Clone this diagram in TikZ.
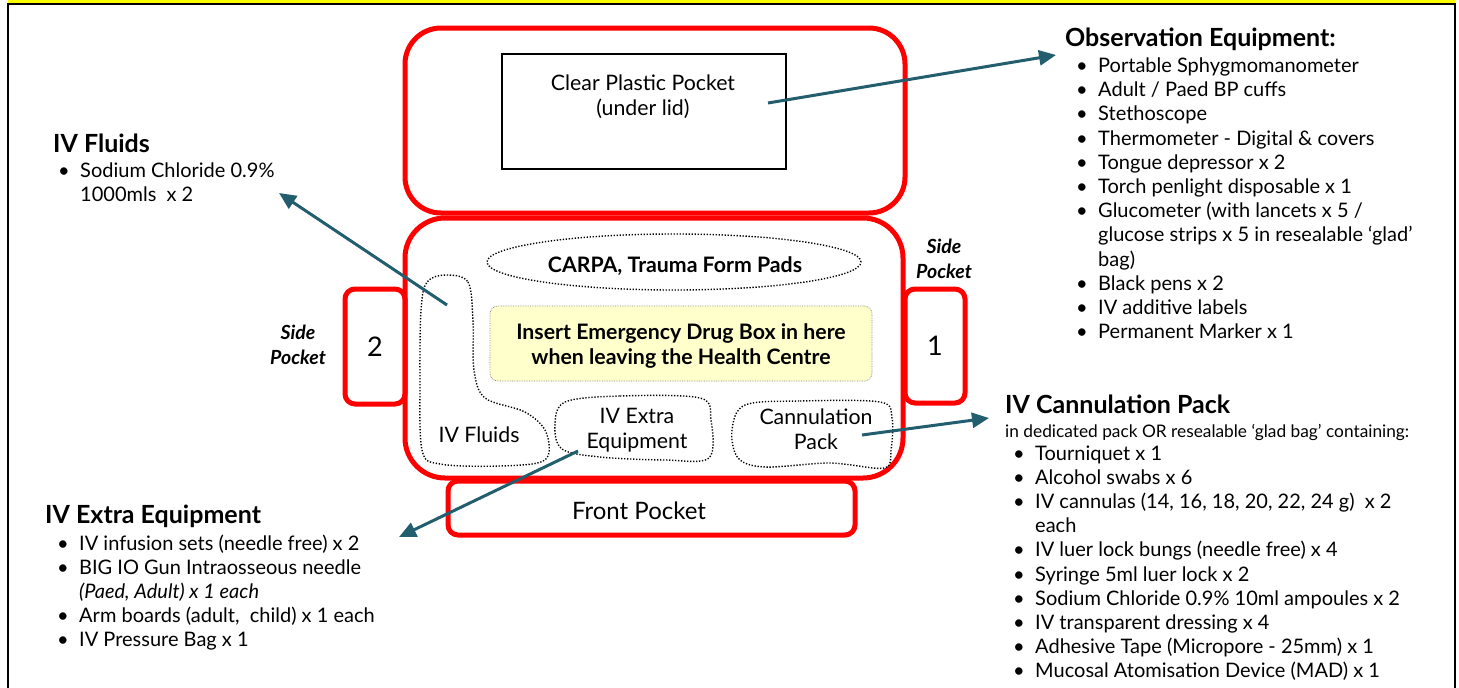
\documentclass[tikz,border=0pt]{standalone}
\usepackage{fontspec}
\setmainfont{Lato}
\usetikzlibrary{arrows.meta,shapes.geometric}

\definecolor{bagred}{RGB}{255,0,0}
\definecolor{pointer}{RGB}{35,94,111}
\definecolor{drugfill}{RGB}{255,255,204}
\definecolor{band}{RGB}{255,255,0}

\newcommand{\headfont}{\fontsize{25}{29}\selectfont\bfseries}
\newcommand{\listfont}{\fontsize{20}{24.2}\selectfont}
\newcommand{\boxfont}{\fontsize{21.3}{25}\selectfont}
\newcommand{\bul}{\makebox[22pt][l]{\textbullet}}
\newcommand{\cont}{\hspace*{22pt}}

\tikzstyle{pocket}=[rectangle,
    line width=5pt,
    draw=bagred,
    rounded corners=10pt]
\tikzstyle{sheet}=[rectangle,
    line width=1.5pt,
    draw=black]
\tikzstyle{blob}=[line width=1.4pt,
    dash pattern=on 1.3pt off 1.7pt]
\tikzstyle{heading}=[anchor=base west, inner sep=0pt, font=\headfont]
\tikzstyle{list}=[anchor=base west, inner sep=0pt, align=left, font=\listfont]
\tikzstyle{label}=[inner sep=0pt, align=center, font=\boxfont]
\tikzstyle{pointer}=[draw=pointer, line width=3pt,
    -{Triangle[length=17pt,width=15pt]}]

\begin{document}
\begin{tikzpicture}[x=1pt,y=-1pt]
\useasboundingbox (0,0) rectangle (1459,688);

% page frame
\fill[band] (8,0) rectangle (1455,4);
\draw[line width=2.5pt] (8,720) -- (8,4) -- (1455,4) -- (1455,720);

% the bag
\node (lid) [pocket, rounded corners=36pt, minimum width=500pt, minimum height=185pt] at (655,120.5) {};
\node (plastic) [sheet, minimum width=284pt, minimum height=115pt] at (644,111.5) {};
\node (plastictext) [label] at (643,97) {Clear Plastic Pocket\\(under lid)};

\node (sidetwo) [pocket, minimum width=60pt, minimum height=115pt, font=\fontsize{27}{30}\selectfont] at (375,346.5) {2};
\node (sideone) [pocket, minimum width=60pt, minimum height=114pt, font=\fontsize{27}{30}\selectfont] at (935,346) {1};
\node (front) [pocket, minimum width=407pt, minimum height=54pt] at (651.5,508) {};
\node (fronttext) [label, font=\fontsize{24}{28}\selectfont] at (639,511) {Front Pocket};
\node (main) [pocket, rounded corners=40pt, minimum width=498pt, minimum height=260pt] at (654,348) {};

\node (sidetwotext) [label, font=\fontsize{19.5}{25}\selectfont\bfseries\itshape] at (298,345) {Side\\Pocket};
\node (sideonetext) [label, font=\fontsize{19.5}{25}\selectfont\bfseries\itshape] at (944,259) {Side\\Pocket};

% compartments inside
\node (forms) [ellipse, blob, draw, minimum width=374pt, minimum height=56pt] at (674,262) {};
\node (formstext) [label, font=\boxfont\bfseries] at (675,266) {CARPA, Trauma Form Pads};
\node (drugbox) [rectangle, rounded corners=8pt, fill=drugfill, draw=gray, densely dotted, line width=0.7pt,
    minimum width=382pt, minimum height=75pt] at (681,343.5) {};
\node (drugtext) [label, font=\boxfont\bfseries] at (681,346.5)
    {Insert Emergency Drug Box in here\\when leaving the Health Centre};

\draw[blob] plot[smooth cycle, tension=0.55] coordinates {(446,275) (468,282) (473,320) (474,370) (485,398)
    (525,412) (546,432) (545,460) (500,466) (440,464) (422,450) (420,380) (421,310) (427,282)};
\node (fluidstext) [label] at (479,435) {IV Fluids};

\draw[blob] plot[smooth cycle, tension=0.55] coordinates {(565,402) (620,396) (700,398) (711,420)
    (709,458) (665,460) (600,457) (562,449) (555,425)};
\node (extratext) [label] at (637,430.5) {IV Extra\\Equipment};

\draw[blob] plot[smooth cycle, tension=0.55] coordinates {(745,405) (800,401) (880,402) (892,418)
    (891,450) (884,468) (830,463) (765,467) (738,458) (732,430)};
\node (cannultext) [label] at (816,429.5) {Cannulation\\Pack};

% item lists (base = last line)
\node (obshead) [heading] at (1065,46) {Observation Equipment:};
\node (obslist) [list] at (1076,338.7) {\bul Portable Sphygmomanometer\\
    \bul Adult / Paed BP cuffs\\
    \bul Stethoscope\\
    \bul Thermometer - Digital \& covers\\
    \bul Tongue depressor x 2\\
    \bul Torch penlight disposable x 1\\
    \bul Glucometer (with lancets x 5 /\\
    \cont glucose strips x 5 in resealable ‘glad’\\
    \cont bag)\\
    \bul Black pens x 2\\
    \bul IV additive labels\\
    \bul Permanent Marker x 1};

\node (fluidshead) [heading] at (53,152.5) {IV Fluids};
\node (fluidslist) [list] at (58,201.7) {\bul Sodium Chloride 0.9\%\\
    \cont 1000mls~ x 2};

\node (extrahead) [heading] at (45,523.5) {IV Extra Equipment};
\node (extralist) [list] at (57,646.8) {\bul IV infusion sets (needle free) x 2\\
    \bul BIG IO Gun Intraosseous needle\\
    \cont\textit{(Paed, Adult) x 1 each}\\
    \bul Arm boards (adult,~ child) x 1 each\\
    \bul IV Pressure Bag x 1};

\node (cannulhead) [heading] at (1005,413.5) {IV Cannulation Pack};
\node (cannulnote) [heading, font=\fontsize{17.3}{20}\selectfont] at (1005,437) {in dedicated pack OR resealable ‘glad bag’ containing:};
\node (cannullist) [list] at (1013,677.8) {\bul Tourniquet x 1\\
    \bul Alcohol swabs x 6\\
    \bul IV cannulas (14, 16, 18, 20, 22, 24 g)~ x 2\\
    \cont each\\
    \bul IV luer lock bungs (needle free) x 4\\
    \bul Syringe 5ml luer lock x 2\\
    \bul Sodium Chloride 0.9\% 10ml ampoules x 2\\
    \bul IV transparent dressing x 4\\
    \bul Adhesive Tape (Micropore - 25mm) x 1\\
    \bul Mucosal Atomisation Device (MAD) x 1};

% pointers
\coordinate (obsfrom) at (768,103);
\coordinate (obsto) at (1056,55);
\coordinate (fluidsfrom) at (447,305);
\coordinate (fluidsto) at (279,193);
\coordinate (extrafrom) at (578,451);
\coordinate (extrato) at (399,537);
\coordinate (cannulfrom) at (862,435);
\coordinate (cannulto) at (989,418);
\draw [pointer] (obsfrom) -- (obsto);
\draw [pointer] (fluidsfrom) -- (fluidsto);
\draw [pointer] (extrafrom) -- (extrato);
\draw [pointer] (cannulfrom) -- (cannulto);
\end{tikzpicture}
\end{document}
